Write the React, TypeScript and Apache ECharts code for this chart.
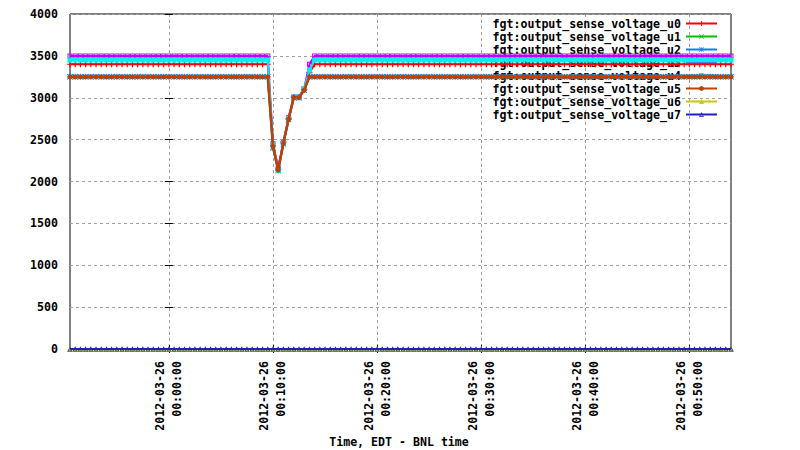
import React, { useEffect, useRef } from 'react';
import * as echarts from 'echarts';

// Sampling grid of the recording (one sample every 30 s)
const START_TIME = '2012-03-25 23:50:30';
const END_TIME = '2012-03-26 00:54:00';
const REF_TIME = '2012-03-26 00:00:00';
const SAMPLE_STEP_S = 30;

const TICK_TIMES = [
  '2012-03-26 00:00:00',
  '2012-03-26 00:10:00',
  '2012-03-26 00:20:00',
  '2012-03-26 00:30:00',
  '2012-03-26 00:40:00',
  '2012-03-26 00:50:00',
];

const Y_MIN = 0;
const Y_MAX = 4000;
const Y_STEP = 500;

const X_TITLE = 'Time, EDT - BNL time';

const NAMES = [
  'fgt:output_sense_voltage_u0',
  'fgt:output_sense_voltage_u1',
  'fgt:output_sense_voltage_u2',
  'fgt:output_sense_voltage_u3',
  'fgt:output_sense_voltage_u4',
  'fgt:output_sense_voltage_u5',
  'fgt:output_sense_voltage_u6',
  'fgt:output_sense_voltage_u7',
];

const u0 = [
  3400,3400,3400,3400,3400,3400,3400,3400,3400,3400,3400,3400,3400,3400,3400,3400,
  3400,3400,3400,3400,3400,3400,3400,3400,3400,3400,3400,3400,3400,3400,3400,3400,
  3400,3400,3400,3400,3400,3400,3400,2430,2150,2470,2750,3010,3010,3100,3300,3400,
  3400,3400,3400,3400,3400,3400,3400,3400,3400,3400,3400,3400,3400,3400,3400,3400,
  3400,3400,3400,3400,3400,3400,3400,3400,3400,3400,3400,3400,3400,3400,3400,3400,
  3400,3400,3400,3400,3400,3400,3400,3400,3400,3400,3400,3400,3400,3400,3400,3400,
  3400,3400,3400,3400,3400,3400,3400,3400,3400,3400,3400,3400,3400,3400,3400,3400,
  3400,3400,3400,3400,3400,3400,3400,3400,3400,3400,3400,3400,3400,3400,3400,3400,
];

const u1 = [
  3250,3250,3250,3250,3250,3250,3250,3250,3250,3250,3250,3250,3250,3250,3250,3250,
  3250,3250,3250,3250,3250,3250,3250,3250,3250,3250,3250,3250,3250,3250,3250,3250,
  3250,3250,3250,3250,3250,3250,3250,2410,2140,2450,2740,3000,3000,3090,3250,3250,
  3250,3250,3250,3250,3250,3250,3250,3250,3250,3250,3250,3250,3250,3250,3250,3250,
  3250,3250,3250,3250,3250,3250,3250,3250,3250,3250,3250,3250,3250,3250,3250,3250,
  3250,3250,3250,3250,3250,3250,3250,3250,3250,3250,3250,3250,3250,3250,3250,3250,
  3250,3250,3250,3250,3250,3250,3250,3250,3250,3250,3250,3250,3250,3250,3250,3250,
  3250,3250,3250,3250,3250,3250,3250,3250,3250,3250,3250,3250,3250,3250,3250,3250,
];

const u2 = [
  3250,3250,3250,3250,3250,3250,3250,3250,3250,3250,3250,3250,3250,3250,3250,3250,
  3250,3250,3250,3250,3250,3250,3250,3250,3250,3250,3250,3250,3250,3250,3250,3250,
  3250,3250,3250,3250,3250,3250,3250,2400,2130,2450,2740,3000,3000,3090,3250,3250,
  3250,3250,3250,3250,3250,3250,3250,3250,3250,3250,3250,3250,3250,3250,3250,3250,
  3250,3250,3250,3250,3250,3250,3250,3250,3250,3250,3250,3250,3250,3250,3250,3250,
  3250,3250,3250,3250,3250,3250,3250,3250,3250,3250,3250,3250,3250,3250,3250,3250,
  3250,3250,3250,3250,3250,3250,3250,3250,3250,3250,3250,3250,3250,3250,3250,3250,
  3250,3250,3250,3250,3250,3250,3250,3250,3250,3250,3250,3250,3250,3250,3250,3250,
];

const u3 = [
  3500,3500,3500,3500,3500,3500,3500,3500,3500,3500,3500,3500,3500,3500,3500,3500,
  3500,3500,3500,3500,3500,3500,3500,3500,3500,3500,3500,3500,3500,3500,3500,3500,
  3500,3500,3500,3500,3500,3500,3500,2450,2160,2470,2760,3010,3010,3110,3400,3500,
  3500,3500,3500,3500,3500,3500,3500,3500,3500,3500,3500,3500,3500,3500,3500,3500,
  3500,3500,3500,3500,3500,3500,3500,3500,3500,3500,3500,3500,3500,3500,3500,3500,
  3500,3500,3500,3500,3500,3500,3500,3500,3500,3500,3500,3500,3500,3500,3500,3500,
  3500,3500,3500,3500,3500,3500,3500,3500,3500,3500,3500,3500,3500,3500,3500,3500,
  3500,3500,3500,3500,3500,3500,3500,3500,3500,3500,3500,3500,3500,3500,3500,3500,
];

const u4 = [
  3450,3450,3450,3450,3450,3450,3450,3450,3450,3450,3450,3450,3450,3450,3450,3450,
  3450,3450,3450,3450,3450,3450,3450,3450,3450,3450,3450,3450,3450,3450,3450,3450,
  3450,3450,3450,3450,3450,3450,3450,2440,2130,2460,2750,3010,3010,3110,3330,3450,
  3450,3450,3450,3450,3450,3450,3450,3450,3450,3450,3450,3450,3450,3450,3450,3450,
  3450,3450,3450,3450,3450,3450,3450,3450,3450,3450,3450,3450,3450,3450,3450,3450,
  3450,3450,3450,3450,3450,3450,3450,3450,3450,3450,3450,3450,3450,3450,3450,3450,
  3450,3450,3450,3450,3450,3450,3450,3450,3450,3450,3450,3450,3450,3450,3450,3450,
  3450,3450,3450,3450,3450,3450,3450,3450,3450,3450,3450,3450,3450,3450,3450,3450,
];

const u5 = [
  3250,3250,3250,3250,3250,3250,3250,3250,3250,3250,3250,3250,3250,3250,3250,3250,
  3250,3250,3250,3250,3250,3250,3250,3250,3250,3250,3250,3250,3250,3250,3250,3250,
  3250,3250,3250,3250,3250,3250,3250,2420,2137,2456,2743,3005,3005,3092,3250,3250,
  3250,3250,3250,3250,3250,3250,3250,3250,3250,3250,3250,3250,3250,3250,3250,3250,
  3250,3250,3250,3250,3250,3250,3250,3250,3250,3250,3250,3250,3250,3250,3250,3250,
  3250,3250,3250,3250,3250,3250,3250,3250,3250,3250,3250,3250,3250,3250,3250,3250,
  3250,3250,3250,3250,3250,3250,3250,3250,3250,3250,3250,3250,3250,3250,3250,3250,
  3250,3250,3250,3250,3250,3250,3250,3250,3250,3250,3250,3250,3250,3250,3250,3250,
];

const u6 = [
  0,0,0,0,0,0,0,0,0,0,0,0,0,0,0,0,
  0,0,0,0,0,0,0,0,0,0,0,0,0,0,0,0,
  0,0,0,0,0,0,0,0,0,0,0,0,0,0,0,0,
  0,0,0,0,0,0,0,0,0,0,0,0,0,0,0,0,
  0,0,0,0,0,0,0,0,0,0,0,0,0,0,0,0,
  0,0,0,0,0,0,0,0,0,0,0,0,0,0,0,0,
  0,0,0,0,0,0,0,0,0,0,0,0,0,0,0,0,
  0,0,0,0,0,0,0,0,0,0,0,0,0,0,0,0,
];

const u7 = [
  0,0,0,0,0,0,0,0,0,0,0,0,0,0,0,0,
  0,0,0,0,0,0,0,0,0,0,0,0,0,0,0,0,
  0,0,0,0,0,0,0,0,0,0,0,0,0,0,0,0,
  0,0,0,0,0,0,0,0,0,0,0,0,0,0,0,0,
  0,0,0,0,0,0,0,0,0,0,0,0,0,0,0,0,
  0,0,0,0,0,0,0,0,0,0,0,0,0,0,0,0,
  0,0,0,0,0,0,0,0,0,0,0,0,0,0,0,0,
  0,0,0,0,0,0,0,0,0,0,0,0,0,0,0,0,
];

const VALUES = [u0, u1, u2, u3, u4, u5, u6, u7];

const COLORS = ['#ff0000', '#00c000', '#0080ff', '#c000ff', '#00eeee', '#c04000', '#c8c800', '#2020c0'];

const PLUS = 'path://M4,0H6V4H10V6H6V10H4V6H0V4H4Z';
const CROSS = 'path://M1,0L5,4L9,0L10,1L6,5L10,9L9,10L5,6L1,10L0,9L4,5L0,1Z';
const STAR = 'path://M4.4,0H5.6V4.4H10V5.6H5.6V10H4.4V5.6H0V4.4H4.4Z M1,0L5,4L9,0L10,1L6,5L10,9L9,10L5,6L1,10L0,9L4,5L0,1Z';
const OPEN_SQUARE = 'path://M0,0H10V10H0Z M2,2V8H8V2Z';
const OPEN_TRIANGLE = 'path://M5,0L10,10L0,10Z M5,3.2L1.9,8.6H8.1Z';
const SYMBOLS = [PLUS, CROSS, STAR, OPEN_SQUARE, 'rect', 'circle', 'triangle', OPEN_TRIANGLE];
const SYMBOL_SIZES = [6, 5, 6, 5, 5, 5, 6, 5];
const LINE_WIDTHS = [2, 2, 2, 2, 2, 2.5, 2, 2];

const FONT = '"DejaVu Sans Mono", "Liberation Mono", monospace';

function toMs(s: string): number {
  return +echarts.time.parse(s);
}

export default function App() {
  const ref = useRef<HTMLDivElement>(null);

  useEffect(() => {
    if (!ref.current) return;
    document.body.style.margin = '0';
    const chart = echarts.init(ref.current, undefined, { renderer: 'svg' });

    const ref0 = toMs(REF_TIME);
    const toMin = (s: string) => (toMs(s) - ref0) / 60000;
    const xMin = toMin(START_TIME);
    const xMax = toMin(END_TIME);
    // x positions of samples, minutes relative to REF_TIME
    const xs = u0.map((_, i) => xMin + (i * SAMPLE_STEP_S) / 60);
    const ticks = TICK_TIMES.map(toMin);

    const labelFmt = (v: number) => {
      if (Math.abs(v - Math.round(v / 10) * 10) > 1e-6) return '';
      return echarts.time.format(ref0 + v * 60000, '{yyyy}-{MM}-{dd}\n{HH}:{mm}:{ss}', false);
    };

    const baseX = {
      type: 'value',
      min: xMin,
      max: xMax,
      splitNumber: 5,
      axisLine: { show: false },
      axisTick: {
        show: true,
        inside: false,
        length: 4,
        customValues: ticks,
        lineStyle: { color: '#000', width: 1 },
      },
    };

    const option: any = {
      animation: false,
      backgroundColor: '#ffffff',
      grid: {
        left: 70,
        right: 69,
        top: 14,
        bottom: 101,
        show: true,
        borderColor: '#000',
        borderWidth: 1,
        backgroundColor: 'transparent',
      },
      legend: {
        orient: 'vertical',
        right: 82,
        top: 17,
        padding: 0,
        itemWidth: 31,
        itemHeight: 6,
        itemGap: 0,
        align: 'right',
        z: 1,
        selectedMode: false,
        data: NAMES,
        textStyle: {
          fontFamily: FONT,
          fontWeight: 'bold',
          fontSize: 11.6,
          color: '#000',
          lineHeight: 13,
        },
      },
      xAxis: [
        {
          ...baseX,
          position: 'bottom',
          axisLabel: {
            show: true,
            rotate: 90,
            margin: 12,
            customValues: ticks,
            formatter: labelFmt,
            fontFamily: FONT,
            fontWeight: 'bold',
            fontSize: 11.6,
            lineHeight: 17,
            padding: [4, 0, 0, 0],
            color: '#000',
          },
          splitLine: {
            show: true,
            lineStyle: { color: '#a0a0a0', width: 1, type: [3, 3] },
          },
        },
        {
          ...baseX,
          position: 'top',
          axisLabel: { show: false },
          splitLine: { show: false },
        },
      ],
      yAxis: [
        {
          type: 'value',
          position: 'left',
          min: Y_MIN,
          max: Y_MAX,
          interval: Y_STEP,
          axisLine: { show: false },
          axisTick: { show: true, inside: false, length: 4, lineStyle: { color: '#000' } },
          axisLabel: {
            margin: 12,
            formatter: (v: number) => String(v),
            fontFamily: FONT,
            fontWeight: 'bold',
            fontSize: 11.6,
            color: '#000',
          },
          splitLine: {
            show: true,
            lineStyle: { color: '#a0a0a0', width: 1, type: [3, 3] },
          },
        },
        {
          type: 'value',
          position: 'right',
          min: Y_MIN,
          max: Y_MAX,
          interval: Y_STEP,
          axisLine: { show: false },
          axisTick: { show: true, inside: false, length: 4, lineStyle: { color: '#000' } },
          axisLabel: { show: false },
          splitLine: { show: false },
        },
      ],
      graphic: [
        {
          type: 'text',
          x: 399,
          y: 442,
          style: {
            text: X_TITLE,
            fontFamily: FONT,
            fontWeight: 'bold',
            fontSize: 11.6,
            fill: '#000',
            textAlign: 'center',
            textVerticalAlign: 'middle',
          },
        },
      ],
      series: NAMES.map((name, k) => ({
        name,
        type: 'line',
        xAxisIndex: 0,
        yAxisIndex: 0,
        data: VALUES[k].map((v, i) => [xs[i], v]),
        symbol: SYMBOLS[k],
        symbolSize: SYMBOL_SIZES[k],
        showAllSymbol: true,
        color: COLORS[k],
        lineStyle: { color: COLORS[k], width: LINE_WIDTHS[k] },
        itemStyle: { color: COLORS[k] },
        emphasis: { disabled: true },
        silent: true,
        z: 2 + k * 0.01,
      })),
    };

    chart.setOption(option);
    return () => chart.dispose();
  }, []);

  return <div ref={ref} style={{ width: 800, height: 450 }} />;
}
